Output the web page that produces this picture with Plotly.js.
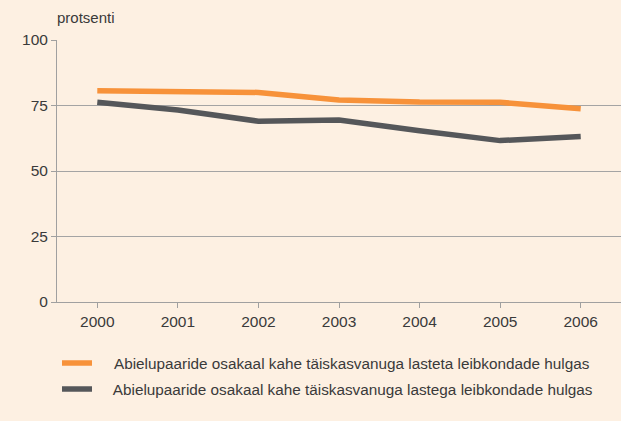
<!DOCTYPE html>
<html>
<head>
<meta charset="utf-8">
<script src="https://cdn.plot.ly/plotly-3.0.1.min.js"></script>
<style>html,body{margin:0;padding:0;background:#fdf0e2;}#chart{width:621px;height:421px;}</style>
</head>
<body>
<div id="chart"></div>
<script>
var years = ['2000','2001','2002','2003','2004','2005','2006'];
var withoutChildren = [80.6, 80.1, 80.0, 77.1, 76.3, 76.2, 73.8];
var withChildren = [76.2, 73.3, 69.0, 69.5, 65.4, 61.6, 63.2];
var seriesNames = [
  'Abielupaaride osakaal kahe täiskasvanuga lasteta leibkondade hulgas',
  'Abielupaaride osakaal kahe täiskasvanuga lastega leibkondade hulgas'
];
var yTicks = [0, 25, 50, 75, 100];
var yUnit = 'protsenti';

var traces = [
  {x: years, y: withoutChildren, name: '\u00a0\u00a0\u00a0\u00a0' + seriesNames[0], type: 'scatter', mode: 'lines',
   legendgroup: 'a', line: {color: '#f7923a', width: 5.5}},
  {x: years, y: withChildren, name: '\u00a0\u00a0\u00a0\u2009' + seriesNames[1], type: 'scatter', mode: 'lines',
   legendgroup: 'b', line: {color: '#55575a', width: 5.5}}
];

var layout = {
  width: 621, height: 421,
  margin: {l: 57, r: 0, t: 40, b: 119},
  paper_bgcolor: '#fdf0e2', plot_bgcolor: '#fdf0e2',
  font: {family: 'Liberation Sans, Arial, sans-serif', size: 15, color: '#3a3a3a'},
  xaxis: {
    type: 'category', range: [-0.5, 6.5],
    showgrid: false, showline: true, linecolor: '#a0a0a0', linewidth: 1,
    ticks: 'outside', ticklen: 5, tickcolor: '#a0a0a0',
    tickfont: {size: 15.5}, fixedrange: true
  },
  yaxis: {
    range: [0, 100], tickvals: yTicks,
    showgrid: true, gridcolor: '#a4a4a4', gridwidth: 1,
    showline: true, linecolor: '#a0a0a0', linewidth: 1,
    ticks: 'outside', ticklen: 5, tickcolor: '#a0a0a0',
    tickfont: {size: 15.5}, zeroline: false, fixedrange: true
  },
  showlegend: true,
  legend: {
    x: 0, y: -0.17, xanchor: 'left', yanchor: 'top',
    bgcolor: 'rgba(0,0,0,0)', tracegroupgap: 3,
    font: {size: 15.3, color: '#3a3a3a'}
  },
  annotations: [{
    text: yUnit, xref: 'paper', yref: 'paper', x: 0, y: 1, xanchor: 'left', yanchor: 'bottom',
    xshift: -2, yshift: 12, showarrow: false, font: {size: 15, color: '#3a3a3a'}
  }]
};

Plotly.newPlot('chart', traces, layout, {displayModeBar: false, staticPlot: true});
</script>
</body>
</html>
